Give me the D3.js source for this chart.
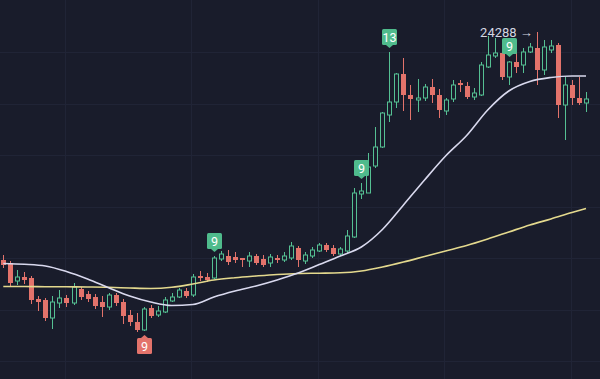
<!DOCTYPE html>
<html><head><meta charset="utf-8">
<script src="https://cdn.jsdelivr.net/npm/d3@7"></script>
<style>html,body{margin:0;padding:0;background:#191c2b;overflow:hidden}</style>
</head><body><svg id="c" width="600" height="379"></svg>
<script>
// ---- data ----
const opens = [
19728,19668,19308,19388,19368,18948,18928,18568,18868,18968,
18868,19148,19048,18988,18888,18788,19028,18888,18628,18488,
18328,18768,18628,18688,18908,18988,19108,19028,19408,19388,
19368,19748,19808,19788,19768,19708,19808,19748,19668,19768,
19728,19768,19968,19708,19808,19908,20028,19968,19848,19908,
20188,21048,21068,21608,21988,22628,22888,23448,23028,22928,
22968,23188,23028,22708,22948,23268,23208,22988,23028,23588,
23808,23868,23388,23688,23628,23888,23968,23528,23928,24028,
22828,23228,22968,22868];
const highs = [
19828,19708,19528,19488,19408,19008,18968,19008,19128,19028,
19268,19188,19108,19048,19008,19068,19068,18948,18728,18668,
18788,18828,18808,18988,19068,19168,19168,19448,19508,19468,
19808,19908,19928,19888,19768,19888,19848,19828,19848,19828,
19888,20088,20008,19888,19988,20068,20068,20028,19988,20328,
21168,21268,21868,22388,22688,23888,23468,23768,23228,23348,
23248,23348,23148,22968,23328,23328,23288,23168,23688,24208,
24168,23988,23708,23888,23968,24068,24288,24128,24128,24068,
23388,23328,23388,23088];
const lows = [
19568,19208,19228,19248,18848,18708,18508,18348,18768,18788,
18828,18928,18888,18748,18588,18728,18808,18448,18408,18288,
18308,18568,18588,18668,18888,18968,18968,18988,19308,19288,
19348,19708,19628,19668,19588,19588,19628,19588,19588,19668,
19688,19728,19588,19648,19768,19888,19888,19808,19808,19868,
20168,20948,21068,21568,21968,22488,22768,22708,22528,22688,
22908,22868,22568,22628,22888,23088,22948,22928,23008,23568,
23768,23328,23228,23468,23468,23868,23228,23428,23868,22568,
22128,22828,22828,22688];
const closes = [
19628,19268,19388,19328,18928,18888,18568,18888,18968,18868,
19188,18988,18948,18808,18788,19028,18868,18608,18488,18328,
18748,18608,18708,18928,18988,19128,19008,19388,19368,19328,
19768,19848,19688,19728,19728,19808,19668,19628,19788,19728,
19808,20008,19728,19828,19928,20028,19928,19848,19948,20208,
21068,21108,21588,21988,22668,22888,23448,23028,22948,22968,
23188,23028,22728,22928,23228,23228,22988,23068,23628,23828,
23868,23388,23688,23588,23888,23988,23528,23988,24008,22828,
23228,22968,22868,22948];

const maIdx  = [0,3,6,9,12,15,18,21,24,27,30,33,36,39,42,45,48,51,54,57,60,63,66,69,72,75,78,81,83];
const maFast = [19658,19642,19608,19498,19348,19174,19008,18888,18818,18838,18988,19108,19208,19328,19468,19638,19808,19988,20338,20828,21328,21808,22218,22728,23108,23298,23378,23408,23408];
const maSlow = [19198,19198,19194,19192,19188,19182,19168,19158,19182,19248,19328,19374,19408,19438,19458,19464,19472,19508,19588,19688,19798,19908,20018,20148,20288,20428,20548,20678,20758];

const markerIdx  = [20,30,51,55,72];
const markerText = ["9","9","9","13","9"];
const markerSide = ["below","above","above","above","above"];

const peakIdx = 76;
const peakText = "24288 \u2192";

const gridIdx = [8.8,26.8,44.8,62.8,80.8];
const gridPrices = [23888,22858,21828,20798,19768,18738,17708];

// ---- drawing ----
const W = 600, H = 379;
const BG = "#191c2b", UP = "#55c093", DOWN = "#e3736b";
const svg = d3.select("#c");
svg.append("rect").attr("width", W).attr("height", H).attr("fill", BG);

const x = d3.scaleLinear().domain([0, 83]).range([3.3, 586]);
const y = d3.scaleLinear().domain([24928 - 20 * H, 24928]).range([H, 0]);

// grid
svg.append("g").selectAll("line").data(gridIdx).join("line")
  .attr("x1", d => Math.round(x(d)) + 0.5).attr("x2", d => Math.round(x(d)) + 0.5)
  .attr("y1", 0).attr("y2", H).attr("stroke", "#202436").attr("stroke-width", 1);
svg.append("g").selectAll("line").data(gridPrices).join("line")
  .attr("y1", d => Math.round(y(d)) + 0.5).attr("y2", d => Math.round(y(d)) + 0.5)
  .attr("x1", 0).attr("x2", W).attr("stroke", "#202436").attr("stroke-width", 1);

const candles = opens.map((o, i) => ({i, o, h: highs[i], l: lows[i], c: closes[i], up: closes[i] >= opens[i]}));

const cg = svg.append("g");
cg.selectAll("line.w").data(candles).join("line").attr("class", "w")
  .attr("x1", d => Math.round(x(d.i)) + 0.5).attr("x2", d => Math.round(x(d.i)) + 0.5)
  .attr("y1", d => y(d.h)).attr("y2", d => y(d.l))
  .attr("stroke", d => d.up ? UP : DOWN).attr("stroke-width", 1);
cg.selectAll("rect.b").data(candles).join("rect").attr("class", "b")
  .attr("x", d => d.up ? Math.round(x(d.i)) - 1.5 : Math.round(x(d.i)) - 2)
  .attr("width", d => d.up ? 4 : 5)
  .attr("y", d => y(Math.max(d.o, d.c)))
  .attr("height", d => Math.max(1, Math.abs(y(d.o) - y(d.c))))
  .attr("fill", d => d.up ? BG : DOWN)
  .attr("stroke", d => d.up ? UP : "none")
  .attr("stroke-width", 1);

// moving averages
const line = d3.line().x(d => x(d[0])).y(d => y(d[1])).curve(d3.curveMonotoneX);
svg.append("path").datum(maIdx.map((k, j) => [k, maSlow[j]]))
  .attr("d", line).attr("fill", "none").attr("stroke", "#e4d98e").attr("stroke-width", 1.6);
svg.append("path").datum(maIdx.map((k, j) => [k, maFast[j]]))
  .attr("d", line).attr("fill", "none").attr("stroke", "#d9d9ee").attr("stroke-width", 1.6);

// markers
const mg = svg.append("g");
markerIdx.forEach((k, j) => {
  const cx = Math.round(x(k)) + 0.5;
  const txt = markerText[j];
  const w = 15, h = 16;
  const above = markerSide[j] === "above";
  const col = above ? "#4fbb8c" : DOWN;
  let tip, top;
  if (above) { tip = y(highs[k]) - 4; top = tip - 3 - h; }
  else { tip = y(lows[k]) + 4; top = tip + 3; }
  mg.append("rect").attr("x", cx - w / 2).attr("y", top).attr("width", w).attr("height", h)
    .attr("rx", 1.5).attr("fill", col);
  const p = above
    ? `M${cx - 3.5},${top + h} L${cx},${tip} L${cx + 3.5},${top + h} Z`
    : `M${cx - 3.5},${top} L${cx},${tip} L${cx + 3.5},${top} Z`;
  mg.append("path").attr("d", p).attr("fill", col);
  mg.append("text").attr("x", cx).attr("y", top + h / 2 + 0.5)
    .attr("text-anchor", "middle").attr("dominant-baseline", "central")
    .attr("font-family", "Roboto, 'Noto Sans', sans-serif").attr("font-size", 12.5)
    .attr("fill", "#ffffff").text(txt);
});

// peak label
svg.append("text").attr("x", x(peakIdx) - 4).attr("y", y(highs[peakIdx]))
  .attr("text-anchor", "end").attr("dominant-baseline", "central")
  .attr("font-family", "Roboto, 'Noto Sans', sans-serif").attr("font-size", 13)
  .attr("fill", "#d4d7e2").text(peakText);
</script>
</body></html>
